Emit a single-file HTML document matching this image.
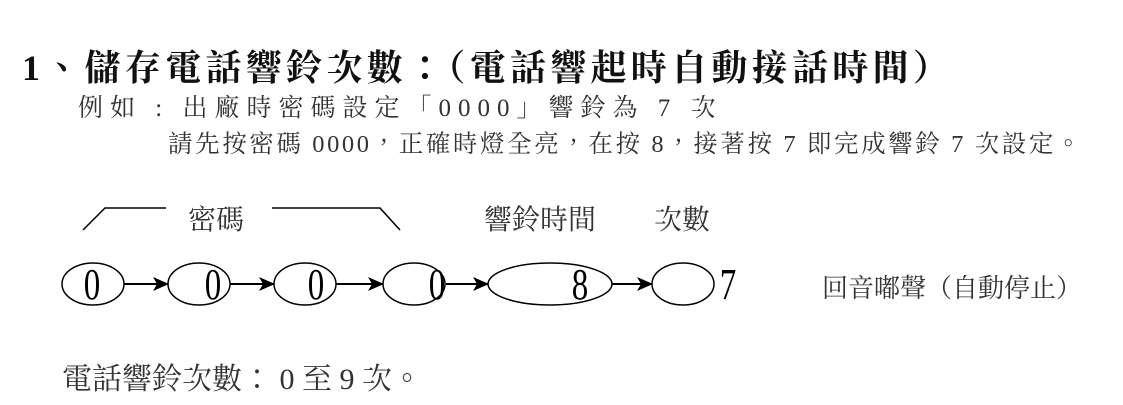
<!DOCTYPE html>
<html><head><meta charset="utf-8"><style>
body{margin:0;width:1123px;height:405px;background:#fff;position:relative;overflow:hidden;font-family:"Liberation Serif","Noto Serif CJK TC",serif;color:#111}
.t{position:absolute;white-space:pre}
</style></head><body>
<div class="t" style="left:22px;top:40px;font-size:36px;font-weight:bold;letter-spacing:4.3px">1、儲存電話響鈴次數：（電話響起時自動接話時間）</div>
<div class="t" style="left:78px;top:88px;font-size:25px;color:#333;letter-spacing:7px">例如 : 出廠時密碼設定「0000」響鈴為 7 次</div>
<div class="t" style="left:168px;top:125px;font-size:24.5px;color:#333;letter-spacing:2.6px">請先按密碼 0000，正確時燈全亮，在按 8，接著按 7 即完成響鈴 7 次設定。</div>
<div class="t" style="left:188px;top:198px;font-size:28px;color:#333">密碼</div>
<div class="t" style="left:484px;top:198px;font-size:28px;color:#333">響鈴時間</div>
<div class="t" style="left:654px;top:198px;font-size:28px;color:#333">次數</div>
<div class="t" style="left:822px;top:268px;font-size:26px;color:#333">回音嘟聲（自動停止）</div>
<div class="t" style="left:62px;top:354px;font-size:30px;color:#333">電話響鈴次數： 0 至 9 次。</div>
<svg width="1123" height="405" style="position:absolute;left:0;top:0" font-family="Liberation Serif, serif">
<defs><marker id="a" markerWidth="16" markerHeight="14" refX="15" refY="7" orient="auto" markerUnits="userSpaceOnUse"><path d="M0,0 L16,7 L0,14 L4,7z" fill="#000"/></marker></defs>
<g fill="none" stroke="#000" stroke-width="1.5">
<polyline points="83,230 105,208 166,208"/>
<polyline points="272,208 380,208 400,230"/>
<ellipse cx="93" cy="284" rx="31" ry="21"/>
<ellipse cx="199" cy="284" rx="31" ry="21"/>
<ellipse cx="305" cy="284" rx="31" ry="21"/>
<ellipse cx="414" cy="284" rx="31" ry="21"/>
<ellipse cx="550" cy="284" rx="62" ry="21"/>
<ellipse cx="683" cy="284" rx="31" ry="21"/>
<line x1="124" y1="284" x2="168" y2="284" stroke-width="2" marker-end="url(#a)"/>
<line x1="230" y1="284" x2="274" y2="284" stroke-width="2" marker-end="url(#a)"/>
<line x1="336" y1="284" x2="383" y2="284" stroke-width="2" marker-end="url(#a)"/>
<line x1="446" y1="284" x2="488" y2="284" stroke-width="2" marker-end="url(#a)"/>
<line x1="612" y1="284" x2="652" y2="284" stroke-width="2" marker-end="url(#a)"/>
</g>
<g font-size="44" fill="#000" text-anchor="middle">
<text transform="translate(92,299) scale(0.75,1)">0</text>
<text transform="translate(213,299) scale(0.75,1)">0</text>
<text transform="translate(316,299) scale(0.75,1)">0</text>
<text transform="translate(437,299) scale(0.75,1)">0</text>
<text transform="translate(580,299) scale(0.75,1)">8</text>
<text transform="translate(728,299) scale(0.75,1)">7</text>
</g>
</svg>
</body></html>
